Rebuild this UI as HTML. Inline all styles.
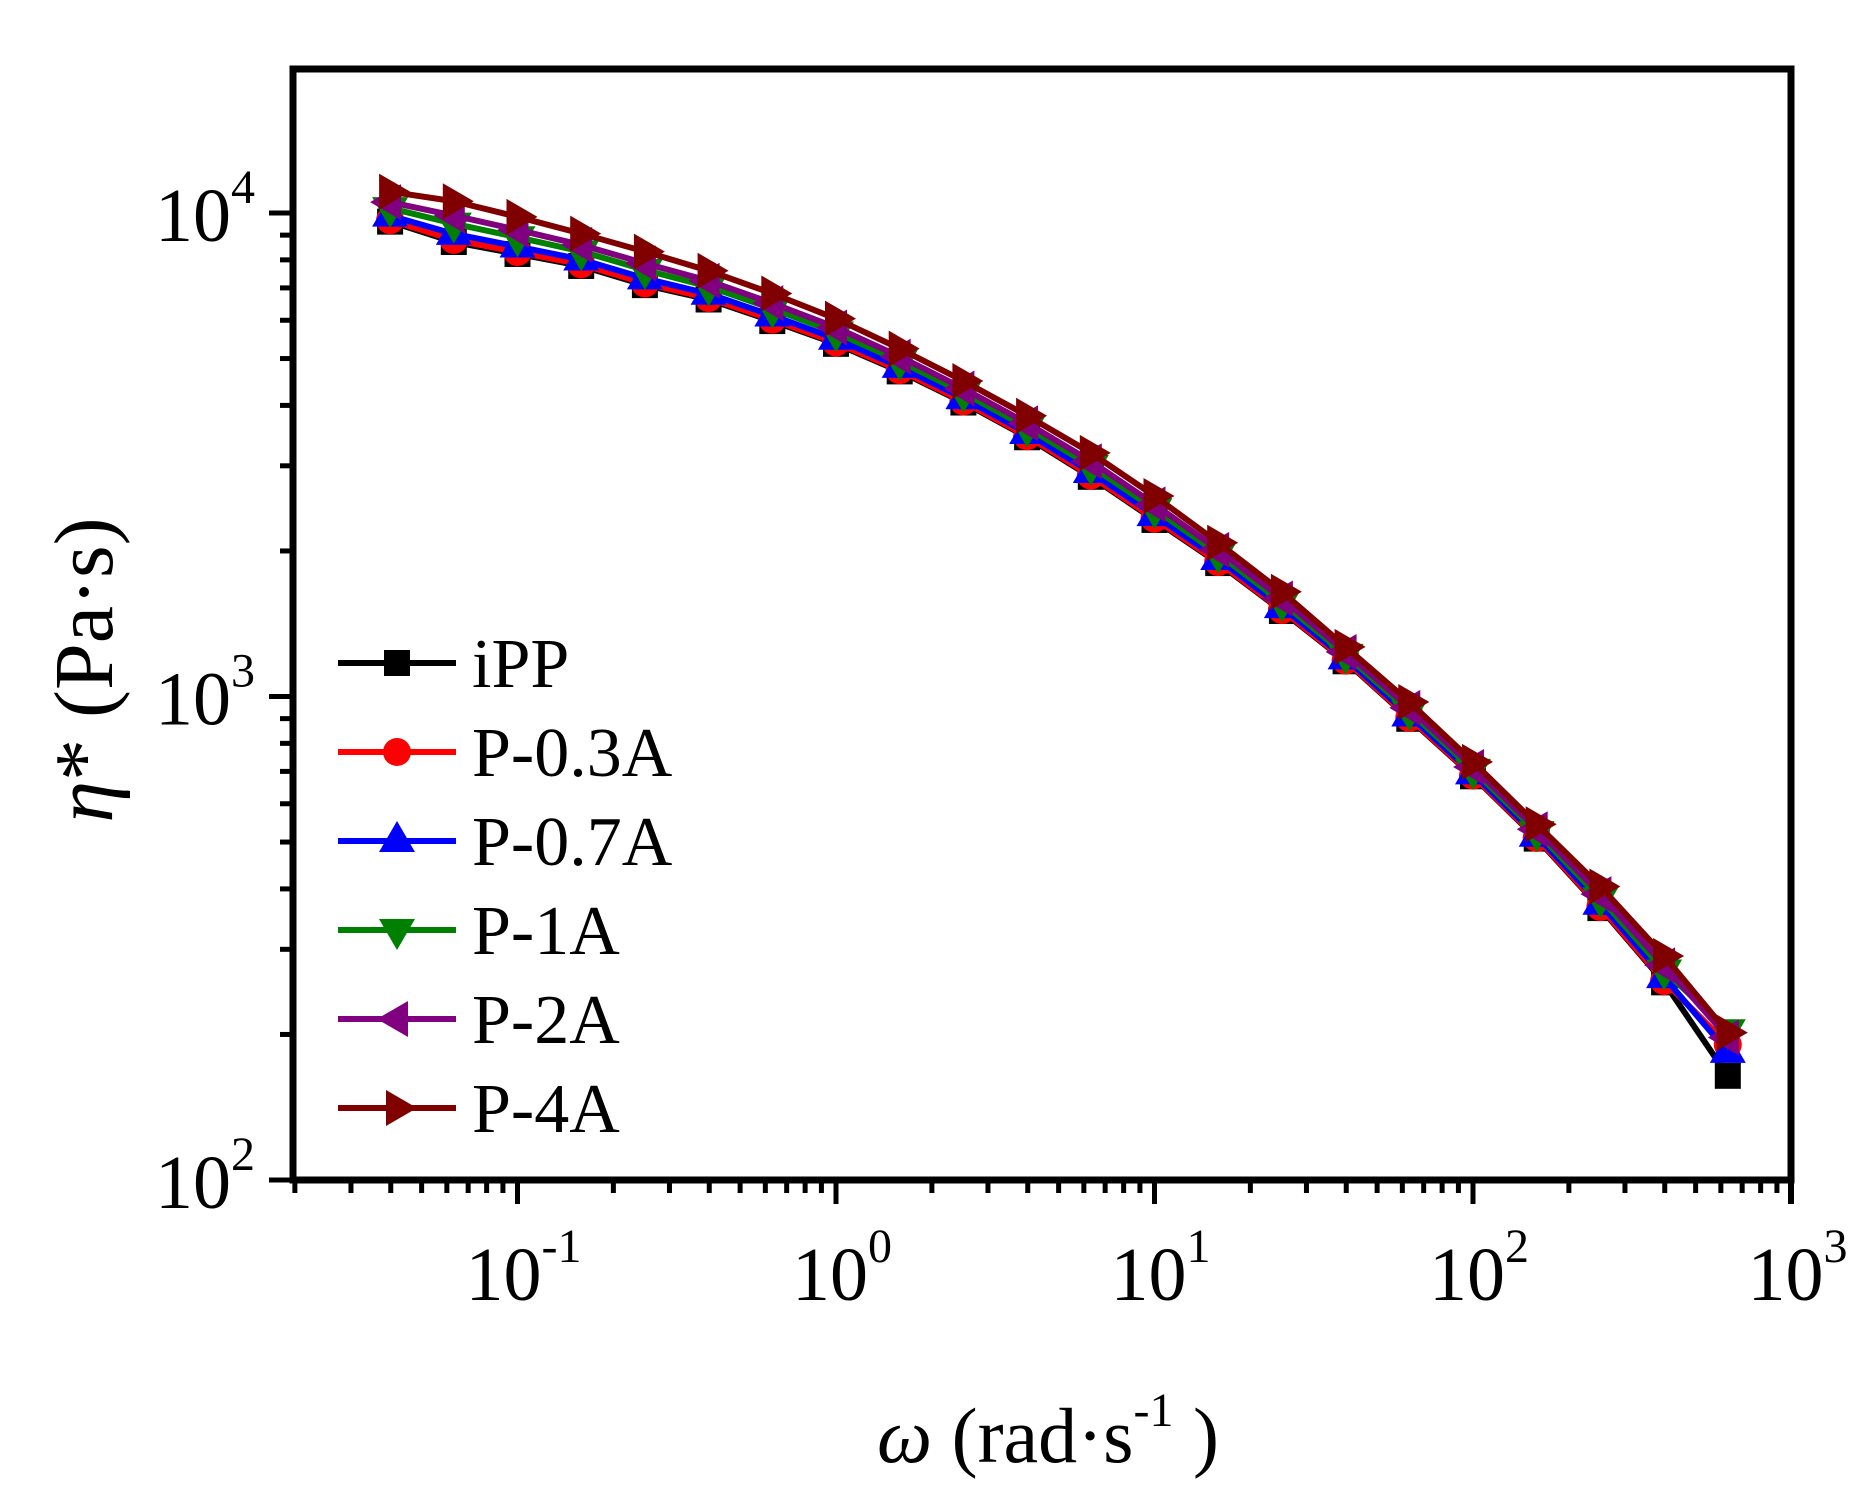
<!DOCTYPE html>
<html><head><meta charset="utf-8"><style>
html,body{margin:0;padding:0;background:#fff;}
svg{display:block;}
text,tspan{font-family:"Liberation Serif","Times New Roman",Times,serif;fill:#000;}
</style></head><body>
<svg id="s" width="1869" height="1486" viewBox="0 0 1869 1486" xmlns="http://www.w3.org/2000/svg" font-family="Liberation Serif, Times New Roman, serif">
<g id="plot"></g>
<g id="axes"></g>
</svg>
<script>
var NS="http://www.w3.org/2000/svg";
var L=293,R=1791,T=69,B=1180;
var XD=318.5, X0=836;
var YD=483.5, Y4=213;
function px(lx){return X0+lx*XD;}
function py(ly){return Y4+(4-ly)*YD;}
function el(tag,attrs,parent,txt){var e=document.createElementNS(NS,tag);for(var k in attrs)e.setAttribute(k,attrs[k]);if(txt!==undefined)e.textContent=txt;(parent||document.getElementById('plot')).appendChild(e);return e;}
var ipp=[185,202,212,222,238,250,268,287,310,336,365,398,434,470,510,552,600,648,700,758,820,898];
var p4=[160,168,181,195,210,226,245,266,291,318,347,378,414,453,494,540,586,636,688,740,798,864];
var series=[
 {c:"#000000",f:0,m:"sq",last:898},
 {c:"#ff0000",f:0.05,m:"ci",last:872},
 {c:"#0000ff",f:0.2,m:"tu",last:878},
 {c:"#008000",f:0.45,m:"td",last:860},
 {c:"#800080",f:0.65,m:"tl",last:866},
 {c:"#800000",f:1,m:"tr",last:862}
];
function marker(type,x,y,c,g){
 if(type=="sq")el("rect",{x:x-13,y:y-13,width:26,height:26,fill:c},g);
 else if(type=="ci")el("circle",{cx:x,cy:y,r:14,fill:c},g);
 else if(type=="tu")el("polygon",{points:(x-18)+","+(y+11)+" "+(x+18)+","+(y+11)+" "+x+","+(y-20),fill:c},g);
 else if(type=="td")el("polygon",{points:(x-18)+","+(y-11)+" "+(x+18)+","+(y-11)+" "+x+","+(y+20),fill:c},g);
 else if(type=="tl")el("polygon",{points:(x+11)+","+(y-18)+" "+(x+11)+","+(y+18)+" "+(x-20)+","+y,fill:c},g);
 else if(type=="tr")el("polygon",{points:(x-11)+","+(y-18)+" "+(x-11)+","+(y+18)+" "+(x+20)+","+y,fill:c},g);
}
var plot=document.getElementById('plot');
series.forEach(function(s){
 var pts=[];
 for(var i=0;i<22;i++){
  var lx=-1.4+0.2*i;
  var yo=ipp[i]+s.f*(p4[i]-ipp[i]);
  if(i==21)yo=s.last;
  pts.push([px(lx),yo*1.198]);
 }
 s.pts=pts;
});
series.forEach(function(s){
 el("polyline",{points:s.pts.map(function(p){return p[0]+","+p[1];}).join(" "),fill:"none",stroke:s.c,"stroke-width":6,"stroke-linejoin":"round"},plot);
 s.pts.forEach(function(p){marker(s.m,p[0],p[1],s.c,plot);});
});
var FF="Liberation Serif, Times New Roman, serif";
var names=["iPP","P-0.3A","P-0.7A","P-1A","P-2A","P-4A"];
var ly=[663,752,841,930,1019,1108];
series.forEach(function(s,i){
 el("line",{x1:338,x2:456,y1:ly[i],y2:ly[i],stroke:s.c,"stroke-width":6},plot);
 marker(s.m,397,ly[i],s.c,plot);
 el("text",{x:472,y:ly[i]+24,"font-size":70,"font-family":FF},plot,names[i]);
});
var ax=document.getElementById('axes');
el("rect",{x:L,y:T,width:R-L,height:B-T,fill:"none",stroke:"#000","stroke-width":7},ax);
for(var d=-2;d<=2;d++){
 for(var k=1;k<=9;k++){
  var lx=d+Math.log10(k); var x=px(lx);
  if(x<L-1||x>R+1)continue;
  var len=(k==1)?24:13;
  el("line",{x1:x,x2:x,y1:B,y2:B+len,stroke:"#000","stroke-width":5},ax);
 }
}
el("line",{x1:R,x2:R,y1:B,y2:B+24,stroke:"#000","stroke-width":6},ax);
for(var d=2;d<=4;d++){
 for(var k=1;k<=9;k++){
  var lyv=d+Math.log10(k); var y=py(lyv);
  if(y<T-1||y>B+1)continue;
  var len=(k==1)?24:13;
  el("line",{x1:L,x2:L-len,y1:y,y2:y,stroke:"#000","stroke-width":5},ax);
 }
}
function tlabel(x,y,base,sup,anchor){
 var t=el("text",{x:x,y:y,"font-size":76,"text-anchor":anchor,"font-family":FF},ax);
 t.appendChild(document.createTextNode(base));
 var ts=document.createElementNS(NS,"tspan");ts.setAttribute("dy","-38");ts.setAttribute("font-size","48");ts.setAttribute("font-family",FF);ts.textContent=sup;t.appendChild(ts);
}
[[-1,"-1"],[0,"0"],[1,"1"],[2,"2"],[3,"3"]].forEach(function(a){
 tlabel(px(a[0])+6,1300,"10",a[1],"middle");
});
[[4,"4"],[3,"3"],[2,"2"]].forEach(function(a){
 tlabel(205,py(a[0])+28,"10",a[1],"middle");
});
var t=el("text",{x:1048,y:1462,"font-size":78,"text-anchor":"middle","font-family":FF},ax);
var w=document.createElementNS(NS,"tspan");w.setAttribute("font-style","italic");w.textContent="ω";t.appendChild(w);
t.appendChild(document.createTextNode(" (rad·s"));
var s1=document.createElementNS(NS,"tspan");s1.setAttribute("dy","-36");s1.setAttribute("font-size","48");s1.textContent="-1";t.appendChild(s1);
var s2=document.createElementNS(NS,"tspan");s2.setAttribute("dy","36");s2.textContent=" )";t.appendChild(s2);
var g=el("g",{transform:"translate(112,670) rotate(-90)"},ax);
var t2=el("text",{x:0,y:0,"font-size":84,"text-anchor":"middle","font-family":FF},g);
var e=document.createElementNS(NS,"tspan");e.setAttribute("font-style","italic");e.textContent="η";t2.appendChild(e);
t2.appendChild(document.createTextNode("*  (Pa·s)"));
</script>
</body></html>
